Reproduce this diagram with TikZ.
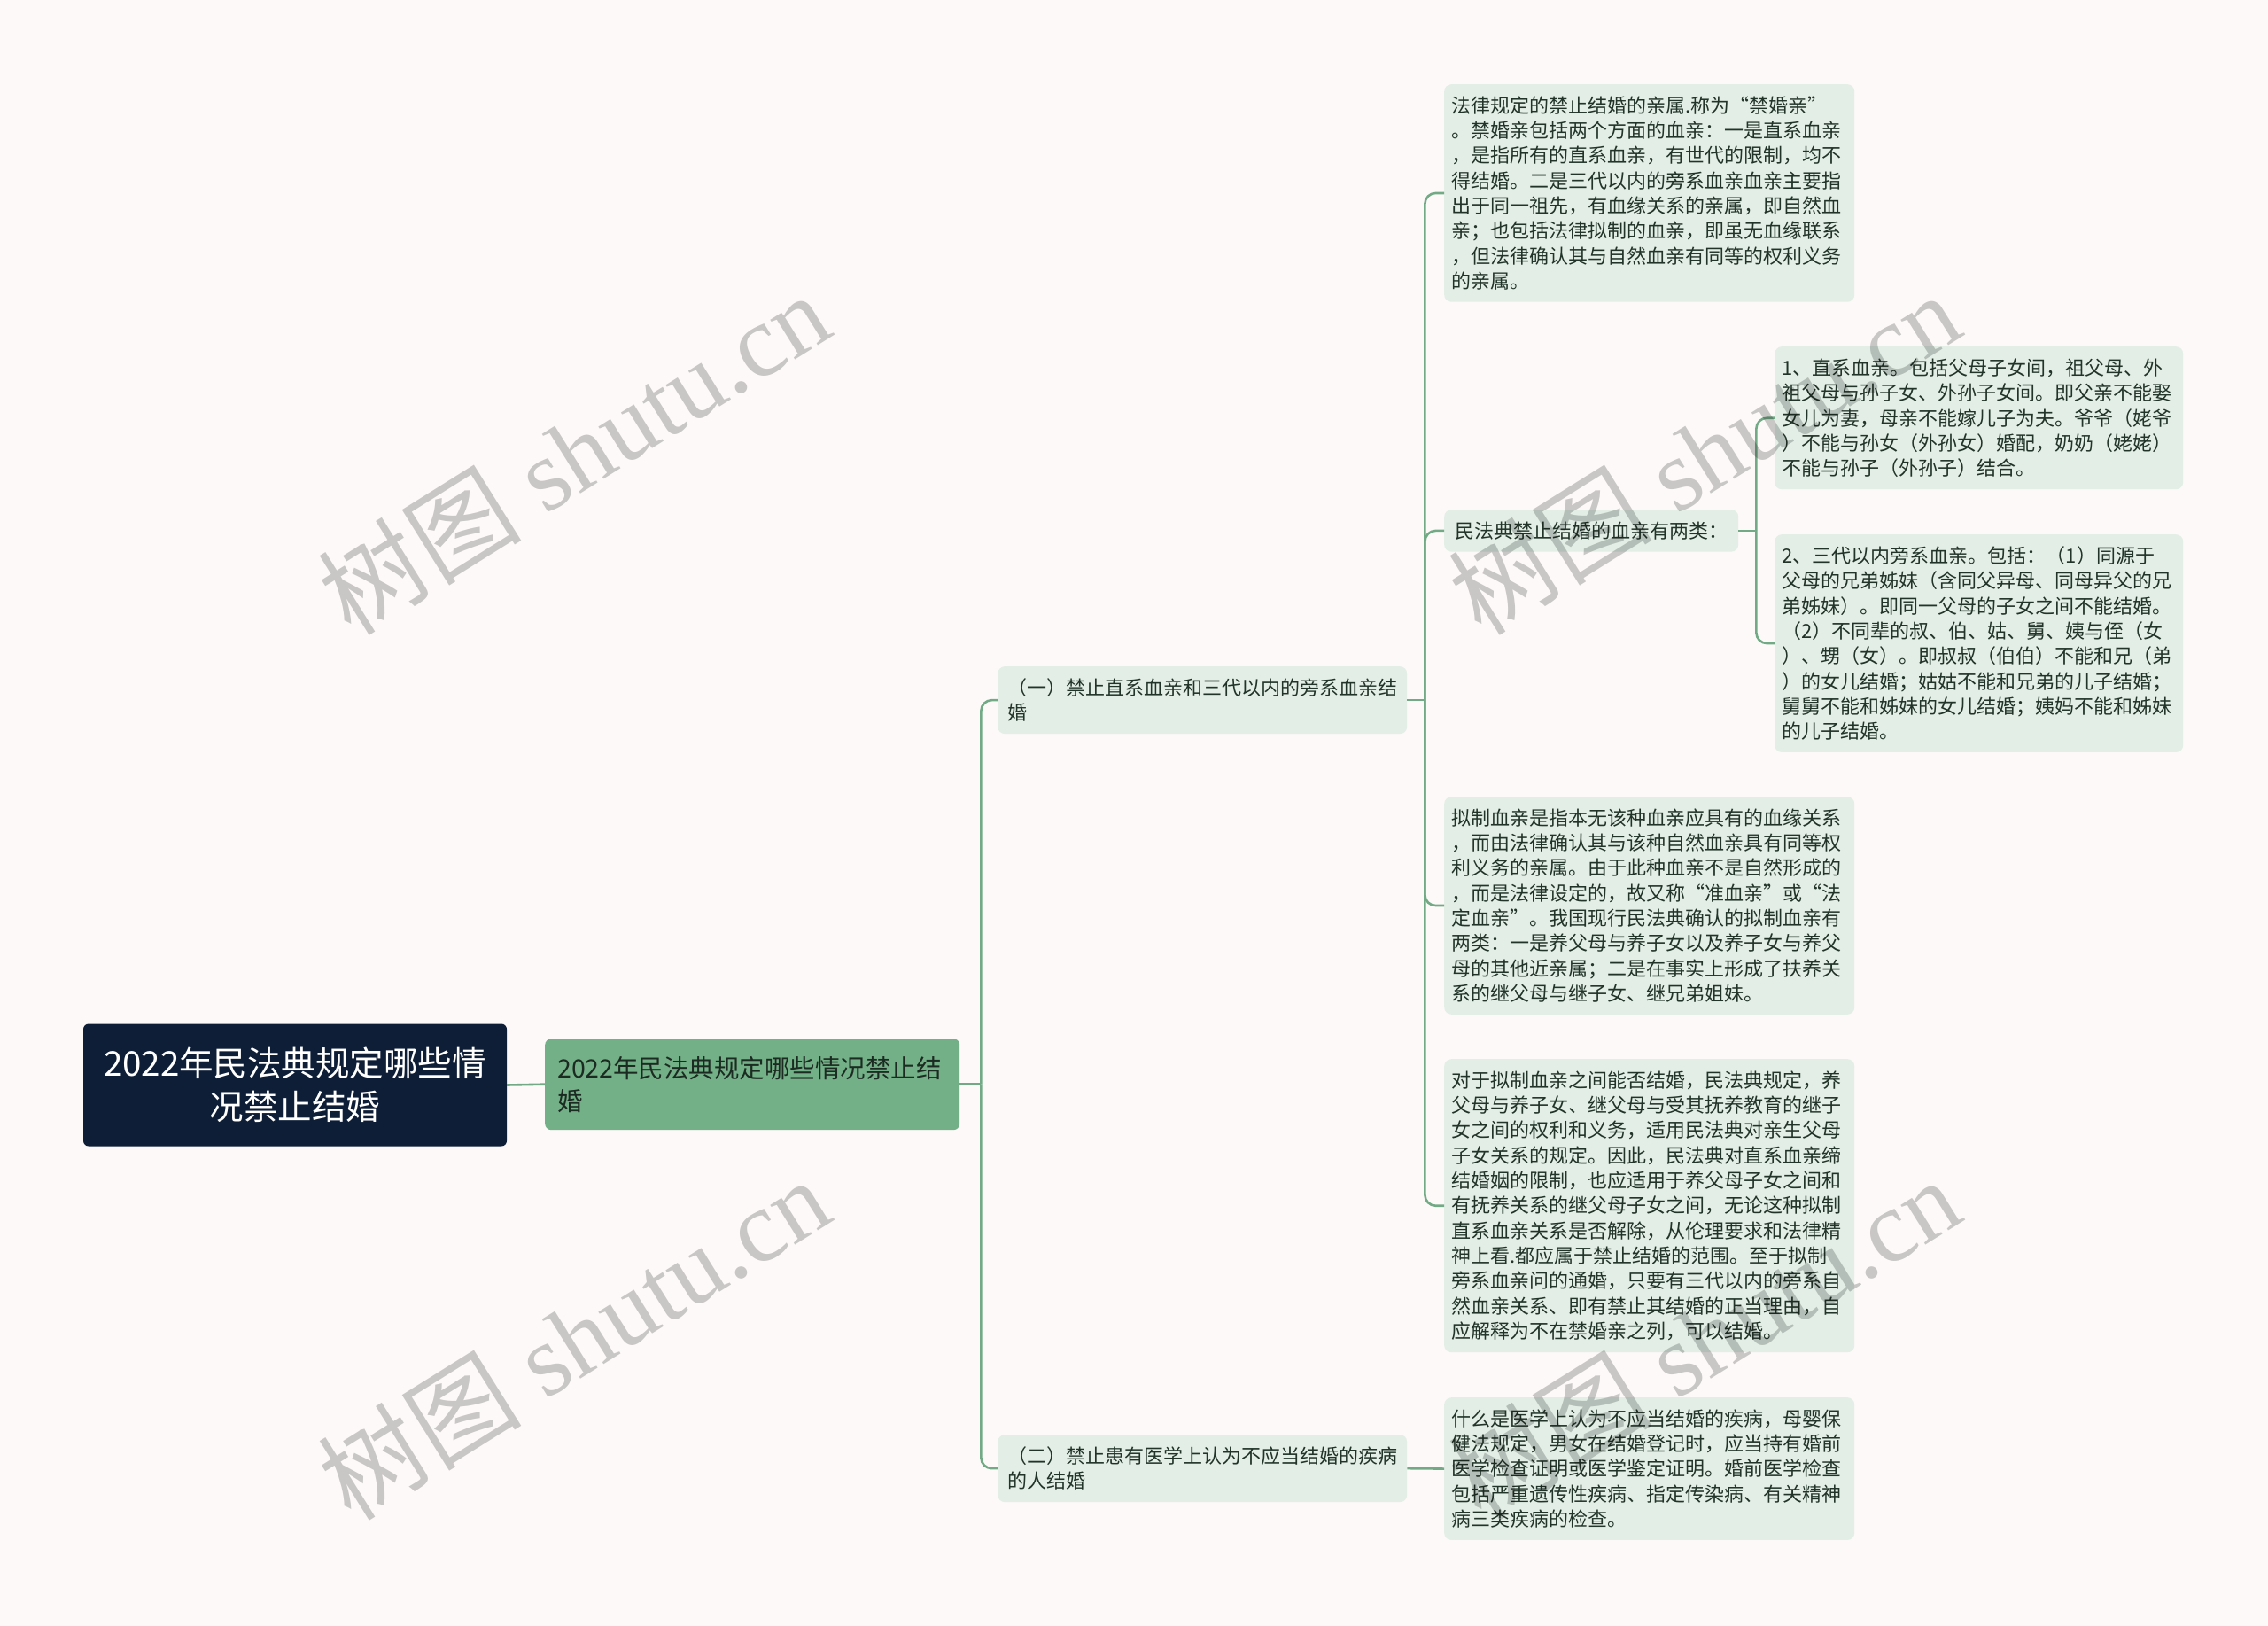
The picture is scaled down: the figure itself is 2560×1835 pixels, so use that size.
\documentclass[tikz,border=0pt]{standalone}
\usepackage{fontspec}
\setmainfont{Liberation Serif}
\newfontfamily\cjk{Noto Sans CJK SC}
\usetikzlibrary{calc}
\definecolor{bgc}{HTML}{FCF9F8}
\definecolor{rootc}{HTML}{0E1E37}
\definecolor{lonec}{HTML}{74B087}
\definecolor{leafc}{HTML}{E2EEE6}
\definecolor{linec}{HTML}{72AA85}
\definecolor{leaftext}{HTML}{22342A}
\definecolor{lonetext}{HTML}{1C2B21}
\tikzset{
  conn/.style={draw=linec, line width=2.6pt, rounded corners=12pt},
  leafbox/.style={fill=leafc, rounded corners=8pt, anchor=north west,
    inner xsep=8.5pt, inner ysep=13.5pt, align=left, text=leaftext,
    font=\cjk\fontsize{22pt}{28.3pt}\selectfont},
  rootbox/.style={fill=rootc, rounded corners=6pt, text=white, align=center,
    minimum width=478pt, minimum height=138pt,
    font=\cjk\fontsize{38.5pt}{49pt}\selectfont},
  onebox/.style={fill=lonec, rounded corners=7pt, anchor=north west, text=lonetext,
    align=left, text width=440pt, inner xsep=14pt, inner ysep=19.5pt,
    minimum height=103pt, font=\cjk\fontsize{28.5pt}{37pt}\selectfont},
  wmark/.style={rotate=32, text=black, opacity=0.2, font=\fontsize{115pt}{120pt}\selectfont}
}
\begin{document}
\begin{tikzpicture}[x=1pt,y=-1pt]
\useasboundingbox (0,0) rectangle (2560,1835);
\fill[bgc] (0,0) rectangle (2560,1835);

\node[rootbox] (root) at (333,1224.5) {2022年民法典规定哪些情\\况禁止结婚};
\node[onebox] (one) at (615,1172) {2022年民法典规定哪些情况禁止结\\婚};

\node[leafbox, text width=440pt, inner xsep=11pt] (ca) at (1126,752) {（一）禁止直系血亲和三代以内的旁系血亲结\\婚};
\node[leafbox, text width=440pt, inner xsep=11pt] (cb) at (1126,1619) {（二）禁止患有医学上认为不应当结婚的疾病\\的人结婚};

\node[leafbox, text width=446pt] (la) at (1630,95) {法律规定的禁止结婚的亲属.称为“禁婚亲”\\。禁婚亲包括两个方面的血亲：一是直系血亲\\，是指所有的直系血亲，有世代的限制，均不\\得结婚。二是三代以内的旁系血亲血亲主要指\\出于同一祖先，有血缘关系的亲属，即自然血\\亲；也包括法律拟制的血亲，即虽无血缘联系\\，但法律确认其与自然血亲有同等的权利义务\\的亲属。};

\node[leafbox, inner xsep=12pt] (mid) at (1630,575) {民法典禁止结婚的血亲有两类：};

\node[leafbox, text width=444pt] (lb) at (2003,391) {1、直系血亲。包括父母子女间，祖父母、外\\祖父母与孙子女、外孙子女间。即父亲不能娶\\女儿为妻，母亲不能嫁儿子为夫。爷爷（姥爷\\）不能与孙女（外孙女）婚配，奶奶（姥姥）\\不能与孙子（外孙子）结合。};

\node[leafbox, text width=444pt] (lc) at (2003,603) {2、三代以内旁系血亲。包括：（1）同源于\\父母的兄弟姊妹（含同父异母、同母异父的兄\\弟姊妹）。即同一父母的子女之间不能结婚。\\（2）不同辈的叔、伯、姑、舅、姨与侄（女\\）、甥（女）。即叔叔（伯伯）不能和兄（弟\\）的女儿结婚；姑姑不能和兄弟的儿子结婚；\\舅舅不能和姊妹的女儿结婚；姨妈不能和姊妹\\的儿子结婚。};

\node[leafbox, text width=446pt] (ld) at (1630,899) {拟制血亲是指本无该种血亲应具有的血缘关系\\，而由法律确认其与该种自然血亲具有同等权\\利义务的亲属。由于此种血亲不是自然形成的\\，而是法律设定的，故又称“准血亲”或“法\\定血亲”。我国现行民法典确认的拟制血亲有\\两类：一是养父母与养子女以及养子女与养父\\母的其他近亲属；二是在事实上形成了扶养关\\系的继父母与继子女、继兄弟姐妹。};

\node[leafbox, text width=446pt] (le) at (1630,1195) {对于拟制血亲之间能否结婚，民法典规定，养\\父母与养子女、继父母与受其抚养教育的继子\\女之间的权利和义务，适用民法典对亲生父母\\子女关系的规定。因此，民法典对直系血亲缔\\结婚姻的限制，也应适用于养父母子女之间和\\有抚养关系的继父母子女之间，无论这种拟制\\直系血亲关系是否解除，从伦理要求和法律精\\神上看.都应属于禁止结婚的范围。至于拟制\\旁系血亲问的通婚，只要有三代以内的旁系自\\然血亲关系、即有禁止其结婚的正当理由，自\\应解释为不在禁婚亲之列，可以结婚。};

\node[leafbox, text width=446pt] (lf) at (1630,1577) {什么是医学上认为不应当结婚的疾病，母婴保\\健法规定，男女在结婚登记时，应当持有婚前\\医学检查证明或医学鉴定证明。婚前医学检查\\包括严重遗传性疾病、指定传染病、有关精神\\病三类疾病的检查。};

% junctions
\coordinate (jone) at ($(one.east)+(24,0)$);
\coordinate (jca) at ($(ca.east)+(20,0)$);
\coordinate (jmid) at ($(mid.east)+(20,0)$);

% connectors
\draw[conn] (root.east) -- (one.west);
\draw[conn] (one.east) -- (jone);
\draw[conn] (jone) |- (ca.west);
\draw[conn] (jone) |- (cb.west);
\draw[conn] (ca.east) -- (jca);
\draw[conn] (jca) |- (la.west);
\draw[conn] (jca) |- (mid.west);
\draw[conn] (jca) |- (ld.west);
\draw[conn] (jca) |- (le.west);
\draw[conn] (cb.east) -- (lf.west);
\draw[conn] (mid.east) -- (jmid);
\draw[conn] (jmid) |- (lb.west);
\draw[conn] (jmid) |- (lc.west);

% watermarks
\node[wmark] (w1) at (647,511) {{\cjk 树图} shutu.cn};
\node[wmark] (w2) at (647,1510) {{\cjk 树图} shutu.cn};
\node[wmark] (w3) at (1923,511) {{\cjk 树图} shutu.cn};
\node[wmark] (w4) at (1923,1510) {{\cjk 树图} shutu.cn};
\end{tikzpicture}
\end{document}
